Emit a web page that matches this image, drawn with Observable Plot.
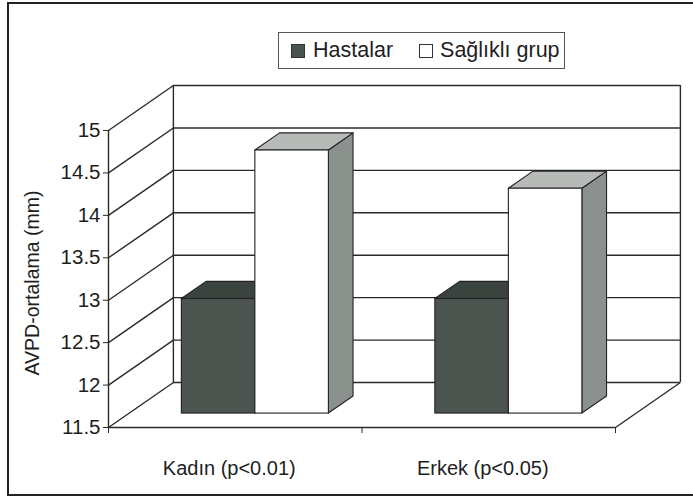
<!DOCTYPE html>
<html><head><meta charset="utf-8">
<script src="https://cdn.jsdelivr.net/npm/d3@7"></script>
<script src="https://cdn.jsdelivr.net/npm/@observablehq/plot@0.6"></script>
<style>
body{margin:0;background:#fff;overflow:hidden;font-family:"Liberation Sans",Arial,sans-serif}
#wrap{position:relative;width:693px;height:502px;overflow:hidden}
#frame{position:absolute;left:7px;top:2px;width:720px;height:494px;border:2px solid #222;box-sizing:border-box;pointer-events:none}
#legend{position:absolute;left:278px;top:32px;width:287px;height:37px;border:1px solid #555;box-sizing:border-box;display:flex;align-items:center;font-size:21.5px;color:#1e1e1e;background:#fff}
.sw{width:14px;height:14px;border:1px solid #333;box-sizing:border-box;display:inline-block}
#chart svg [aria-label="y-axis tick label"]{font-size:20.5px}
#chart svg [aria-label="x-axis tick label"]{font-size:20px}
</style></head>
<body><div id="wrap"><div id="chart"></div><div id="frame"></div>
<div id="legend">
<span class="sw" style="margin-left:12px;background:#4a534e"></span><span style="margin-left:8px">Hastalar</span>
<span class="sw" style="margin-left:26px;background:#fff"></span><span style="margin-left:7px">Sağlıklı grup</span>
</div></div>
<script>
const categories = ["Kadın (p<0.01)", "Erkek (p<0.05)"];
const seriesNames = ["Hastalar", "Sağlıklı grup"];
const hastalar = [12.85, 12.85];
const saglikli = [14.6, 14.15];
const yTicks = [11.5, 12, 12.5, 13, 13.5, 14, 14.5, 15];
const yLabel = "AVPD-ortalama (mm)";

// depth of the 3D box, in data units
const DX = 0.256, DY = 0.53;
const t0 = 0.31, t1 = 0.69; // bar front/back depth fractions
const BW = 0.29; // bar width in category units
const base = 11.5;

const palette = [
  {front: "#4b544f", top: "#3b433e", side: "#3f4843"},
  {front: "#ffffff", top: "#b6bbb7", side: "#8b928d"}
];
const seriesValues = [hastalar, saglikli];

const bars = [];
seriesValues.forEach((vals, j) => vals.forEach((v, i) => {
  const x1 = i + 0.5 - BW + j * BW;
  bars.push({key: j + "-" + i, s: j, x1, x2: x1 + BW, v});
}));

const tops = bars.flatMap(b => [t0, t1].map(t => ({key: b.key, s: b.s, y: b.v + t * DY, xa: b.x1 + t * DX, xb: b.x2 + t * DX})));
const sides = bars.flatMap(b => [t0, t1].map(t => ({key: b.key, s: b.s, x: b.x2 + t * DX, ya: base + t * DY, yb: b.v + t * DY})));

const line = {stroke: "#2a2a2a", strokeWidth: 1.4};
const face = {stroke: "#222", strokeWidth: 1.1};

const barMarks = [0, 1].flatMap(j => [
  Plot.areaY(sides.filter(d => d.s === j), {x: d => d.x, y1: d => d.ya, y2: d => d.yb, z: d => d.key, fill: palette[j].side, ...face}),
  Plot.areaX(tops.filter(d => d.s === j), {y: d => d.y, x1: d => d.xa, x2: d => d.xb, z: d => d.key, fill: palette[j].top, ...face}),
  Plot.rect(bars.filter(d => d.s === j), {x1: d => d.x1 + t0 * DX, x2: d => d.x2 + t0 * DX, y1: base + t0 * DY, y2: d => d.v + t0 * DY, fill: palette[j].front, ...face})
]);

const chart = Plot.plot({
  width: 693, height: 502,
  marginLeft: 108, marginRight: 78, marginTop: 130, marginBottom: 75,
  x: {domain: [0, 2], label: null},
  y: {domain: [11.5, 15], label: null},
  style: {fontFamily: "Liberation Sans, Arial, sans-serif", fontSize: "20px", color: "#1e1e1e", background: "transparent", overflow: "visible"},
  marks: [
    // left wall diagonals
    Plot.link(yTicks, {x1: 0, y1: d => d, x2: DX, y2: d => d + DY, ...line}),
    // back wall gridlines
    Plot.ruleY(yTicks, {y: d => d + DY, x1: DX, x2: 2 + DX, ...line}),
    Plot.ruleX([DX, 2 + DX], {y1: base + DY, y2: 15 + DY, ...line}),
    // floor
    Plot.ruleY([base], {x1: 0, x2: 2, ...line}),
    Plot.link([2], {x1: d => d, y1: base, x2: d => d + DX, y2: base + DY, ...line}),
    // front axis line
    Plot.ruleX([0], {y1: base, y2: 15, ...line}),
    ...barMarks,
    Plot.axisY({ticks: yTicks, tickSize: 5, tickPadding: 3, fontSize: 20.5, label: null, tickFormat: d => String(d), stroke: "#2a2a2a"}),
    Plot.axisX({ticks: [0, 1, 2], tickSize: 6, tickFormat: () => "", label: null, stroke: "#2a2a2a"}),
    Plot.axisX({ticks: [0.5, 1.5], tickSize: 0, tickPadding: 33, fontSize: 20, dx: -6, label: null, tickFormat: d => categories[Math.floor(d)]}),
    Plot.text([yLabel], {frameAnchor: "left", rotate: -90, dx: -76, dy: 4, textAnchor: "middle", lineAnchor: "middle", fontSize: 19.5, fill: "#1e1e1e"})
  ]
});
document.getElementById("chart").appendChild(chart);
</script>
</body></html>
